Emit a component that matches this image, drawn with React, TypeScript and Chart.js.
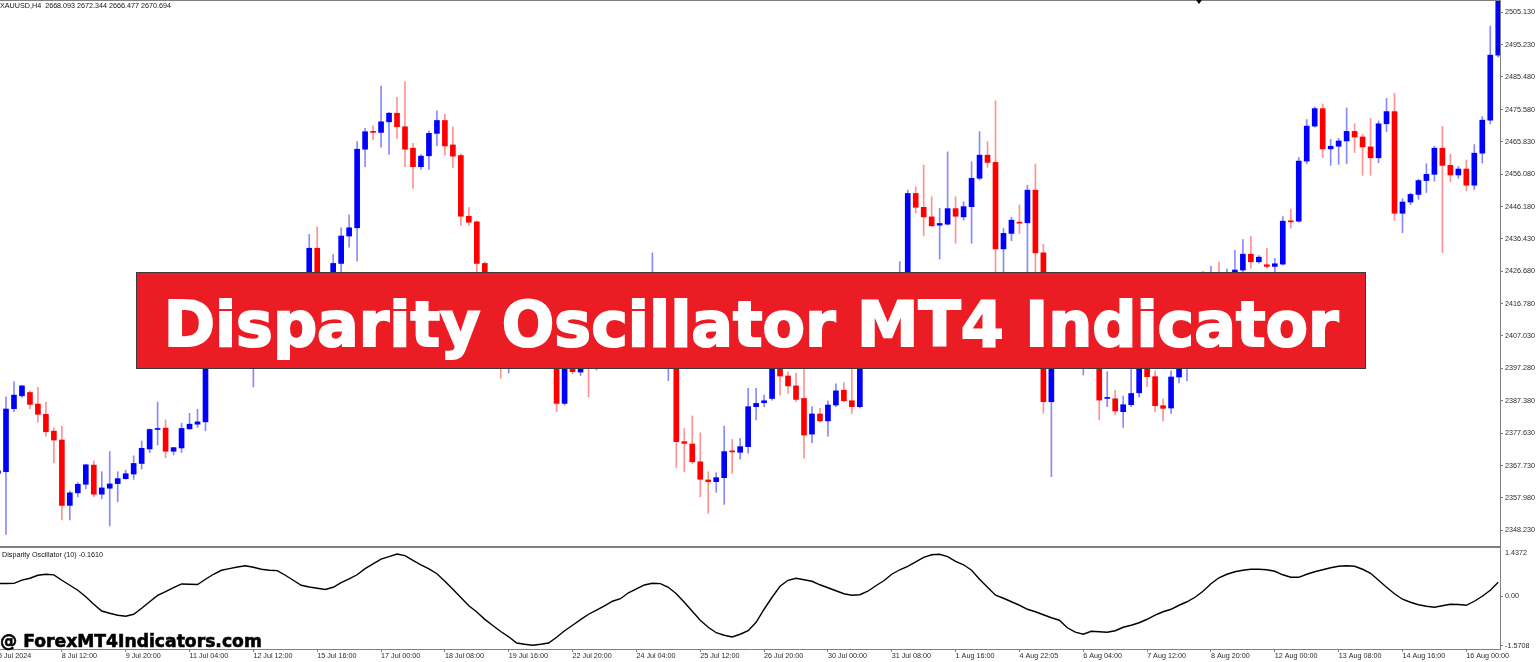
import React, { useEffect, useRef } from "react";
import { Chart, registerables } from "chart.js";

Chart.register(...registerables);

// ---- XAUUSD H4 candles (one per bar, oldest first; first bar is the partly hidden one) ----
const FIRST_BAR = -1;
const OPEN = [
  2365.5,
  2365.9, 2385.0, 2388.9, 2389.9, 2386.4, 2383.3, 2378.2, 2375.5, 2355.7, 2359.5,
  2362.1, 2367.9, 2359.1, 2360.9, 2362.3, 2363.8, 2365.2, 2368.4, 2372.8, 2378.7,
  2379.1, 2372.1, 2373.1, 2378.9, 2380.3, 2381.0, 2402.8, 2407.3, 2404.3, 2410.3,
  2413.4, 2403.0, 2409.0, 2406.0, 2413.5, 2417.0, 2413.0, 2419.5, 2422.5, 2433.6,
  2420.9, 2419.0, 2429.0, 2437.3, 2439.8, 2463.6, 2468.9, 2468.7, 2471.9, 2474.5,
  2470.4, 2463.9, 2458.3, 2461.6, 2468.4, 2472.3, 2464.9, 2461.7, 2443.3, 2441.6,
  2429.0, 2420.9, 2414.5, 2409.0, 2411.5, 2407.0, 2404.5, 2407.5, 2404.0, 2402.0,
  2386.6, 2399.0, 2396.1, 2400.0, 2398.0, 2403.5, 2408.0, 2406.0, 2413.0, 2417.5,
  2415.5, 2420.5, 2423.5, 2409.0, 2411.0, 2375.0, 2374.3, 2368.9, 2363.4, 2362.9,
  2364.1, 2372.2, 2371.8, 2373.5, 2385.6, 2386.8, 2388.1, 2399.0, 2394.9, 2391.9,
  2388.1, 2377.3, 2383.4, 2381.3, 2386.1, 2390.6, 2387.4, 2385.6, 2403.0, 2408.0,
  2405.0, 2411.5, 2416.0, 2419.0, 2450.2, 2446.0, 2443.1, 2440.6, 2440.9, 2445.6,
  2443.1, 2446.2, 2454.8, 2461.8, 2459.6, 2433.4, 2438.1, 2441.5, 2441.3, 2451.2,
  2432.2, 2387.1, 2404.0, 2401.0, 2405.5, 2401.5, 2403.0, 2401.0, 2388.1, 2388.0,
  2384.1, 2386.2, 2389.8, 2398.0, 2394.7, 2385.9, 2385.2, 2394.6, 2397.5, 2401.0,
  2406.5, 2415.0, 2419.0, 2417.0, 2421.0, 2427.0, 2431.8, 2429.5, 2428.6, 2428.1,
  2428.8, 2441.8, 2441.8, 2460.0, 2470.6, 2475.9, 2463.7, 2464.5, 2466.1, 2469.0,
  2467.3, 2464.3, 2461.0, 2471.3, 2475.0, 2444.2, 2447.6, 2449.9, 2454.1, 2456.0,
  2463.9, 2458.7, 2455.8, 2457.6, 2452.7, 2462.4, 2472.4, 2492.1,
];
const HIGH = [
  2367.0,
  2388.6, 2393.2, 2392.1, 2390.4, 2391.5, 2387.0, 2379.3, 2379.7, 2360.1, 2362.6,
  2368.2, 2369.2, 2365.9, 2372.0, 2365.9, 2366.4, 2370.7, 2375.2, 2378.9, 2387.0,
  2381.6, 2373.3, 2380.6, 2383.6, 2384.8, 2404.3, 2408.8, 2409.4, 2411.8, 2415.5,
  2414.9, 2411.0, 2411.5, 2414.5, 2418.5, 2419.0, 2420.5, 2424.0, 2437.8, 2440.1,
  2423.0, 2431.7, 2439.8, 2443.7, 2465.9, 2469.9, 2470.7, 2482.7, 2474.8, 2479.3,
  2484.0, 2465.4, 2462.0, 2469.2, 2475.2, 2474.2, 2470.4, 2462.2, 2445.9, 2441.9,
  2429.5, 2422.0, 2416.0, 2413.5, 2413.0, 2409.0, 2409.5, 2409.0, 2405.5, 2403.5,
  2401.5, 2400.5, 2400.0, 2402.0, 2405.0, 2409.5, 2410.5, 2414.5, 2419.0, 2420.0,
  2422.0, 2432.2, 2425.0, 2412.5, 2412.0, 2379.0, 2382.8, 2377.7, 2365.9, 2365.6,
  2379.7, 2375.7, 2376.0, 2391.2, 2391.2, 2389.1, 2401.0, 2401.5, 2396.2, 2395.7,
  2399.0, 2385.6, 2385.1, 2387.4, 2392.5, 2392.9, 2397.2, 2405.0, 2409.5, 2410.0,
  2413.0, 2418.0, 2429.5, 2451.2, 2452.2, 2458.8, 2449.2, 2445.7, 2462.8, 2449.2,
  2447.7, 2459.8, 2468.9, 2465.9, 2478.2, 2439.6, 2443.0, 2446.7, 2452.7, 2459.1,
  2434.8, 2406.0, 2406.5, 2407.0, 2407.0, 2404.5, 2405.0, 2402.5, 2396.2, 2390.6,
  2388.8, 2397.5, 2400.0, 2400.0, 2396.5, 2388.0, 2396.5, 2398.5, 2402.0, 2408.0,
  2426.5, 2428.1, 2429.4, 2427.3, 2433.0, 2436.2, 2437.3, 2431.4, 2433.6, 2430.5,
  2443.2, 2445.5, 2461.1, 2472.6, 2476.4, 2477.3, 2466.6, 2466.9, 2476.1, 2471.3,
  2468.2, 2472.9, 2472.2, 2479.0, 2480.5, 2448.6, 2450.3, 2454.5, 2459.2, 2464.5,
  2470.5, 2462.1, 2458.4, 2460.3, 2465.0, 2473.5, 2500.9, 2509.0,
];
const LOW = [
  2364.8,
  2346.9, 2384.1, 2388.4, 2384.9, 2380.9, 2376.7, 2368.6, 2351.3, 2351.3, 2358.3,
  2360.7, 2358.3, 2357.7, 2349.5, 2356.8, 2363.6, 2363.6, 2366.7, 2371.7, 2374.0,
  2370.1, 2371.0, 2371.7, 2378.7, 2379.3, 2378.3, 2401.2, 2402.8, 2402.8, 2408.8,
  2401.0, 2391.6, 2404.0, 2404.5, 2411.0, 2411.5, 2412.0, 2417.5, 2420.5, 2419.4,
  2417.0, 2417.5, 2425.5, 2433.9, 2429.7, 2458.3, 2466.4, 2464.2, 2462.0, 2466.9,
  2458.3, 2451.7, 2457.5, 2457.5, 2464.6, 2461.8, 2458.0, 2440.5, 2440.5, 2425.5,
  2419.4, 2413.0, 2394.2, 2395.8, 2405.0, 2402.0, 2403.0, 2402.5, 2399.5, 2384.1,
  2386.1, 2395.5, 2395.0, 2388.6, 2396.7, 2402.0, 2404.5, 2405.0, 2411.5, 2413.5,
  2414.0, 2418.5, 2407.5, 2393.5, 2367.2, 2365.9, 2368.4, 2358.3, 2353.3, 2359.7,
  2356.0, 2365.4, 2369.7, 2371.5, 2381.6, 2385.6, 2387.6, 2389.1, 2389.6, 2387.1,
  2370.0, 2374.7, 2381.0, 2376.7, 2385.6, 2387.1, 2383.6, 2385.2, 2401.5, 2403.5,
  2404.0, 2410.0, 2414.5, 2417.5, 2444.3, 2437.4, 2440.1, 2430.3, 2440.6, 2435.1,
  2442.1, 2435.1, 2454.3, 2458.1, 2424.0, 2424.5, 2435.9, 2438.1, 2423.0, 2423.0,
  2383.6, 2364.4, 2399.5, 2399.5, 2400.0, 2395.2, 2399.0, 2381.6, 2385.6, 2383.1,
  2379.3, 2385.6, 2388.5, 2391.7, 2384.1, 2381.2, 2383.6, 2392.8, 2393.4, 2400.0,
  2405.0, 2413.5, 2415.0, 2415.5, 2419.5, 2425.5, 2427.6, 2429.1, 2427.6, 2425.5,
  2428.5, 2439.7, 2441.5, 2459.2, 2470.3, 2461.0, 2458.7, 2459.0, 2459.2, 2462.6,
  2455.7, 2455.7, 2459.5, 2468.9, 2442.1, 2438.3, 2446.8, 2448.4, 2450.5, 2453.9,
  2432.3, 2453.7, 2454.8, 2451.0, 2451.3, 2459.4, 2471.3, 2491.5,
];
const CLOSE = [
  2366.2,
  2384.9, 2389.1, 2391.9, 2386.3, 2383.3, 2378.0, 2375.5, 2355.7, 2359.5, 2362.1,
  2368.0, 2359.1, 2361.0, 2362.2, 2363.8, 2365.3, 2368.4, 2373.0, 2378.7, 2379.0,
  2372.1, 2373.2, 2379.0, 2380.3, 2381.0, 2402.8, 2407.3, 2404.3, 2410.3, 2413.4,
  2403.0, 2409.0, 2406.0, 2413.5, 2417.0, 2413.0, 2419.5, 2422.5, 2433.6, 2420.9,
  2419.0, 2429.0, 2437.3, 2439.8, 2463.6, 2468.9, 2468.7, 2471.9, 2474.5, 2470.4,
  2463.6, 2458.3, 2461.5, 2468.4, 2472.3, 2464.6, 2461.5, 2443.3, 2441.5, 2429.0,
  2420.9, 2414.5, 2409.0, 2411.5, 2407.0, 2404.5, 2407.5, 2404.0, 2402.0, 2386.6,
  2400.0, 2396.2, 2398.5, 2398.0, 2403.5, 2408.0, 2406.0, 2413.0, 2417.5, 2415.5,
  2420.5, 2423.5, 2409.0, 2411.0, 2375.0, 2374.5, 2368.9, 2363.6, 2362.9, 2364.1,
  2372.0, 2371.9, 2373.5, 2385.6, 2386.6, 2387.4, 2399.0, 2394.9, 2391.9, 2387.8,
  2377.0, 2383.4, 2381.3, 2386.1, 2390.4, 2387.4, 2385.6, 2403.0, 2408.0, 2405.0,
  2411.5, 2416.0, 2419.0, 2450.2, 2446.0, 2443.1, 2440.4, 2441.1, 2445.6, 2443.3,
  2446.2, 2454.8, 2461.8, 2459.6, 2433.4, 2438.1, 2442.1, 2441.2, 2451.2, 2432.2,
  2387.1, 2404.0, 2401.0, 2405.5, 2401.5, 2403.0, 2401.0, 2387.6, 2388.2, 2384.3,
  2386.2, 2389.6, 2398.0, 2394.7, 2385.9, 2385.1, 2394.6, 2397.5, 2401.0, 2406.5,
  2415.0, 2419.0, 2417.0, 2421.0, 2427.0, 2431.8, 2429.5, 2430.9, 2428.1, 2428.9,
  2441.8, 2441.6, 2460.0, 2470.6, 2475.9, 2463.7, 2464.5, 2466.1, 2469.0, 2467.3,
  2464.3, 2461.0, 2471.3, 2475.0, 2444.2, 2447.6, 2449.9, 2454.1, 2456.0, 2463.9,
  2458.7, 2455.8, 2457.6, 2452.7, 2462.4, 2472.4, 2492.1, 2508.4,
];

// ---- Disparity Oscillator (10), one value per bar ----
const OSC_VALUES = [
  0.38,
  0.378, 0.384, 0.482, 0.536, 0.625, 0.655, 0.637, 0.476, 0.327, 0.179,
  -0.012, -0.238, -0.44, -0.506, -0.565, -0.595, -0.536, -0.357, -0.164, 0.024,
  0.14, 0.256, 0.366, 0.357, 0.348, 0.506, 0.655, 0.774, 0.824, 0.872,
  0.908, 0.863, 0.804, 0.774, 0.765, 0.625, 0.476, 0.327, 0.277, 0.238,
  0.202, 0.268, 0.405, 0.521, 0.64, 0.821, 0.967, 1.107, 1.179, 1.259,
  1.211, 1.071, 0.938, 0.815, 0.67, 0.446, 0.208, -0.039, -0.283, -0.467,
  -0.688, -0.869, -1.051, -1.208, -1.393, -1.429, -1.458, -1.429, -1.393, -1.22,
  -1.027, -0.863, -0.696, -0.536, -0.411, -0.283, -0.149, -0.074, 0.104, 0.223,
  0.336, 0.387, 0.375, 0.268, 0.074, -0.179, -0.446, -0.714, -0.923, -1.086,
  -1.161, -1.211, -1.131, -1.027, -0.774, -0.387, -0.03, 0.298, 0.476, 0.536,
  0.491, 0.446, 0.342, 0.253, 0.164, 0.074, 0.03, 0.045, 0.149, 0.313,
  0.461, 0.655, 0.789, 0.893, 1.027, 1.161, 1.235, 1.25, 1.182, 1.042,
  0.938, 0.774, 0.506, 0.268, 0.03, -0.06, -0.164, -0.268, -0.387, -0.461,
  -0.551, -0.64, -0.714, -0.938, -1.071, -1.131, -1.042, -1.057, -1.071, -1.027,
  -0.923, -0.863, -0.789, -0.685, -0.565, -0.461, -0.387, -0.268, -0.164, -0.03,
  0.149, 0.372, 0.551, 0.655, 0.729, 0.774, 0.804, 0.804, 0.789, 0.744,
  0.64, 0.565, 0.565, 0.655, 0.729, 0.789, 0.848, 0.893, 0.908, 0.893,
  0.804, 0.685, 0.476, 0.268, 0.074, -0.089, -0.179, -0.253, -0.298, -0.327,
  -0.283, -0.238, -0.244, -0.268, -0.149, 0.0, 0.179, 0.417,
];

// ---- axes ----
const PRICE_TICKS = [
  2505.13, 2495.23, 2485.48, 2475.58, 2465.83, 2456.08, 2446.18, 2436.43, 2426.68,
  2416.78, 2407.03, 2397.28, 2387.38, 2377.63, 2367.73, 2357.98, 2348.23,
];
const PRICE_TICK_LABELS = [
  "2505.130", "2495.230", "2485.480", "2475.580", "2465.830", "2456.080", "2446.180",
  "2436.430", "2426.680", "2416.780", "2407.030", "2397.280", "2387.380", "2377.630",
  "2367.730", "2357.980", "2348.230",
];
const PRICE_MIN = 2343.4;
const PRICE_MAX = 2508.5;

const TIME_TICK_BARS = [
  -1, 7, 15, 23, 31, 39, 47, 55, 63, 71, 79, 87, 95, 103, 111, 119, 127, 135, 143, 151,
  159, 167, 175, 183,
];
const TIME_TICK_LABELS = [
  "5 Jul 2024", "8 Jul 12:00", "9 Jul 20:00", "11 Jul 04:00", "12 Jul 12:00",
  "15 Jul 16:00", "17 Jul 00:00", "18 Jul 08:00", "19 Jul 16:00", "22 Jul 20:00",
  "24 Jul 04:00", "25 Jul 12:00", "26 Jul 20:00", "30 Jul 00:00", "31 Jul 08:00",
  "1 Aug 16:00", "4 Aug 22:05", "6 Aug 04:00", "7 Aug 12:00", "8 Aug 20:00",
  "12 Aug 00:00", "13 Aug 08:00", "14 Aug 16:00", "16 Aug 00:00",
];
const BAR_MIN = -0.752;
const BAR_MAX = 187.22;

const OSC_MIN = -1.5708;
const OSC_MAX = 1.4372;
const OSC_TICK_LABELS = ["1.4372", "0.00", "-1.5708"];

const AXIS_FONT = { family: "'Liberation Sans', Arial, sans-serif", size: 7.2 };
const AXIS_COLOR = "#2a2a2a";
const FRAME = "#808080";

const framePlugin = (kind: "main" | "osc") => ({
  id: "frame_" + kind,
  afterDraw(chart: any) {
    const { ctx, chartArea } = chart;
    ctx.save();
    ctx.fillStyle = FRAME;
    const r = Math.round(chartArea.right);
    if (kind === "main") {
      ctx.fillRect(0, 0, r, 1);
      ctx.fillRect(0, chart.height - 1, r + 1, 1);
      ctx.fillRect(r, 0, 1, chart.height);
    } else {
      ctx.fillRect(0, 0, r + 1, 1);
      ctx.fillRect(r, 0, 1, Math.round(chartArea.bottom));
    }
    ctx.restore();
  },
});

export default function App() {
  const mainRef = useRef<HTMLCanvasElement>(null);
  const oscRef = useRef<HTMLCanvasElement>(null);

  useEffect(() => {
    document.body.style.margin = "0";
    const idx = OPEN.map((_, i) => i);
    const bar = (i: number) => i + FIRST_BAR;
    const up = idx.map((i) => CLOSE[i] >= OPEN[i]);

    const main = new Chart(mainRef.current as HTMLCanvasElement, {
      type: "bar",
      data: {
        datasets: [
          {
            data: idx.map((i) => ({ x: bar(i), y: [OPEN[i], CLOSE[i]] })),
            backgroundColor: idx.map((i) => (up[i] ? "#0000ff" : "#ff0000")),
            borderWidth: 0,
            barThickness: 5,
            minBarLength: 1,
            grouped: false,
            order: 0,
            clip: 0,
          } as any,
          {
            data: idx.map((i) => ({ x: bar(i), y: [LOW[i], HIGH[i]] })),
            backgroundColor: idx.map((i) =>
              up[i] ? "rgba(40,40,255,0.55)" : "rgba(255,40,40,0.5)"
            ),
            borderWidth: 0,
            barThickness: 1,
            grouped: false,
            order: 1,
            clip: 0,
          } as any,
        ],
      },
      options: {
        animation: false,
        responsive: false,
        events: [],
        layout: { padding: { top: 1, bottom: 1, left: 0, right: 0 } },
        plugins: { legend: { display: false }, tooltip: { enabled: false } },
        scales: {
          x: {
            type: "linear",
            min: BAR_MIN,
            max: BAR_MAX,
            display: false,
            offset: false,
            bounds: "data",
            grid: { offset: false },
          },
          y: {
            type: "linear",
            position: "right",
            min: PRICE_MIN,
            max: PRICE_MAX,
            bounds: "data",
            afterBuildTicks: (s: any) => {
              s.ticks = PRICE_TICKS.map((v) => ({ value: v }));
            },
            afterFit: (s: any) => {
              s.width = 36;
              s.paddingTop = 0;
              s.paddingBottom = 0;
            },
            ticks: {
              autoSkip: false,
              padding: 2,
              color: AXIS_COLOR,
              font: AXIS_FONT,
              callback: (_v: any, i: number) => PRICE_TICK_LABELS[i] ?? "",
            },
            grid: { drawOnChartArea: false, drawTicks: true, tickLength: 3, color: FRAME },
            border: { display: true, color: FRAME, width: 1 },
          },
        },
      } as any,
      plugins: [framePlugin("main")],
    });

    const osc = new Chart(oscRef.current as HTMLCanvasElement, {
      type: "line",
      data: {
        datasets: [
          {
            data: idx.map((i) => ({ x: bar(i), y: OSC_VALUES[i] })),
            borderColor: "#000000",
            borderWidth: 1.4,
            pointRadius: 0,
            tension: 0,
            fill: false,
            clip: 0,
          } as any,
        ],
      },
      options: {
        animation: false,
        responsive: false,
        events: [],
        layout: { padding: { top: 1, bottom: 0, left: 0, right: 0 } },
        plugins: { legend: { display: false }, tooltip: { enabled: false } },
        scales: {
          x: {
            type: "linear",
            position: "bottom",
            min: BAR_MIN,
            max: BAR_MAX,
            offset: false,
            bounds: "data",
            afterBuildTicks: (s: any) => {
              s.ticks = TIME_TICK_BARS.map((v) => ({ value: v }));
            },
            afterFit: (s: any) => {
              s.height = 13;
              s.paddingLeft = 0;
              s.paddingRight = 0;
            },
            ticks: {
              autoSkip: false,
              maxRotation: 0,
              minRotation: 0,
              align: "start",
              padding: 0,
              color: AXIS_COLOR,
              font: AXIS_FONT,
              callback: (_v: any, i: number) => TIME_TICK_LABELS[i] ?? "",
            },
            grid: { drawOnChartArea: false, drawTicks: true, tickLength: 3, color: FRAME },
            border: { display: true, color: FRAME, width: 1 },
          },
          y: {
            type: "linear",
            position: "right",
            min: OSC_MIN,
            max: OSC_MAX,
            bounds: "data",
            afterBuildTicks: (s: any) => {
              const span = OSC_MAX - OSC_MIN;
              s.ticks = [
                { value: OSC_MAX - span * 0.05 },
                { value: 0 },
                { value: OSC_MIN + span * 0.03 },
              ];
            },
            afterFit: (s: any) => {
              s.width = 36;
              s.paddingTop = 0;
              s.paddingBottom = 0;
            },
            ticks: {
              autoSkip: false,
              padding: 2,
              color: AXIS_COLOR,
              font: AXIS_FONT,
              callback: (_v: any, i: number) => OSC_TICK_LABELS[i] ?? "",
            },
            grid: {
              drawOnChartArea: false,
              drawTicks: true,
              tickLength: 3,
              color: FRAME,
              tickColor: (c: any) => (c.index === 0 ? "rgba(0,0,0,0)" : FRAME),
            },
            border: { display: true, color: FRAME, width: 1 },
          },
        },
      } as any,
      plugins: [framePlugin("osc")],
    });

    return () => {
      main.destroy();
      osc.destroy();
    };
  }, []);

  const smallText: React.CSSProperties = {
    position: "absolute",
    fontFamily: "'Liberation Sans', Arial, sans-serif",
    fontSize: 7.2,
    lineHeight: "9px",
    color: "#111",
    whiteSpace: "pre",
  };

  return (
    <div
      style={{
        position: "fixed",
        left: 0,
        top: 0,
        width: 1536,
        height: 662,
        background: "#ffffff",
        overflow: "hidden",
      }}
    >
      <canvas
        ref={mainRef}
        width={1536}
        height={547}
        style={{ position: "absolute", left: 0, top: 0, width: 1536, height: 547 }}
      />
      <canvas
        ref={oscRef}
        width={1536}
        height={115}
        style={{ position: "absolute", left: 0, top: 547, width: 1536, height: 115 }}
      />
      <div style={{ ...smallText, left: 0, top: 1 }}>
        {"XAUUSD,H4  2668.093 2672.344 2666.477 2670.694"}
      </div>
      <div
        style={{
          position: "absolute",
          left: 1196,
          top: 0,
          width: 0,
          height: 0,
          borderLeft: "3.5px solid transparent",
          borderRight: "3.5px solid transparent",
          borderTop: "4px solid #000",
        }}
      />
      <div style={{ ...smallText, left: 2, top: 550 }}>
        {"Disparity Oscillator (10) -0.1610"}
      </div>
      <div
        style={{
          position: "absolute",
          left: 136,
          top: 272,
          width: 1230,
          height: 97,
          boxSizing: "border-box",
          background: "#ec1c24",
          border: "1.5px solid #3a3a3a",
        }}
      />
      <div
        style={{
          position: "absolute",
          left: 136,
          top: 293.6,
          width: 1230,
          height: 62,
          lineHeight: "62px",
          textAlign: "center",
          fontFamily: "'DejaVu Sans', sans-serif",
          fontWeight: 700,
          fontSize: 61.8,
          color: "#ffffff",
          WebkitTextStroke: "2px #ffffff",
          whiteSpace: "nowrap",
        }}
      >
        Disparity Oscillator MT4 Indicator
      </div>
      <div
        style={{
          position: "absolute",
          left: 0,
          top: 632.3,
          height: 18,
          lineHeight: "18px",
          fontFamily: "'DejaVu Sans', sans-serif",
          fontWeight: 700,
          fontSize: 17.2,
          color: "#000000",
          WebkitTextStroke: "0.6px #000000",
          whiteSpace: "nowrap",
        }}
      >
        @ ForexMT4Indicators.com
      </div>
    </div>
  );
}
